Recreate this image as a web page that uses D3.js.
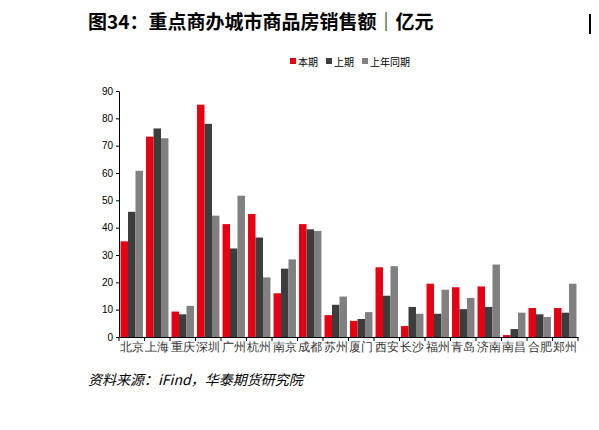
<!DOCTYPE html>
<html><head><meta charset="utf-8">
<script src="https://cdn.jsdelivr.net/npm/d3@7"></script>
<style>body{margin:0;background:#fff;font-family:"Noto Sans CJK SC",sans-serif}</style>
</head><body>
<svg id="c" width="599" height="430"></svg>
<script>
const cities = ['北京','上海','重庆','深圳','广州','杭州','南京','成都','苏州','厦门','西安','长沙','福州','青岛','济南','南昌','合肥','郑州'];
const current = [35,73.3,9.3,85,41.3,45,16,41.3,8,5.9,25.5,4,19.5,18.2,18.5,0.7,10.6,10.6];
const previous = [45.8,76.3,8.3,78,32.4,36.4,25,39.4,11.8,6.6,15.1,11,8.5,10.2,11,2.9,8.3,8.9];
const lastYear = [60.8,72.7,11.4,44.4,51.7,21.8,28.4,38.8,14.8,9.1,25.9,8.5,17.3,14.3,26.5,8.9,7.3,19.5];
const seriesNames = ['本期','上期','上年同期'];
const colors = ['#e60012','#3d3d3d','#808080'];
const yTicks = d3.range(0,91,10);

const svg = d3.select('#c');
svg.append('text').attr('x',88).attr('y',29).attr('font-size',19).attr('font-weight','bold').text('图34：重点商办城市商品房销售额｜亿元');
svg.append('rect').attr('x',589).attr('y',14).attr('width',2).attr('height',20).attr('fill','#000');

const x = d3.scaleBand().domain(cities).range([119,578]).paddingInner(0.12).paddingOuter(0.06);
const y = d3.scaleLinear().domain([0,90]).range([337,91]);
const inner = d3.scaleBand().domain([0,1,2]).range([0,x.bandwidth()]);

const lg = svg.append('g');
let lx = 290;
seriesNames.forEach((n,i)=>{
  lg.append('rect').attr('x',lx).attr('y',58).attr('width',6).attr('height',6).attr('fill',colors[i]);
  lg.append('text').attr('x',lx+8).attr('y',65.5).attr('font-size',10).text(n);
  lx += 8 + n.length*10 + 8;
});

const data = [current,previous,lastYear];
data.forEach((s,k)=>{
  svg.append('g').selectAll('rect').data(s).join('rect')
    .attr('x',(d,i)=>x(cities[i])+inner(k)).attr('width',inner.bandwidth())
    .attr('y',d=>y(d)).attr('height',d=>y(0)-y(d)).attr('fill',colors[k]);
});

const ya = svg.append('g').attr('transform','translate(119,0)')
  .call(d3.axisLeft(y).tickValues(yTicks).tickSize(3).tickSizeOuter(0));
ya.selectAll('text').attr('font-size',10).attr('font-family','Liberation Sans, Arial').attr('fill','#000');
const xa = svg.append('g').attr('transform','translate(0,337)')
  .call(d3.axisBottom(x).tickSize(0).tickSizeOuter(0));
xa.selectAll('text').attr('font-size',12).attr('dy','0.9em').attr('fill','#333');
svg.append('g').selectAll('line').data(d3.range(cities.length+1)).join('line')
  .attr('x1',i=>119+i*x.step()*(1)).attr('x2',i=>119+i*x.step())
  .attr('y1',337).attr('y2',341).attr('stroke','#000');
svg.selectAll('.domain').attr('stroke','#000');

svg.append('text').attr('x',88).attr('y',385).attr('font-size',14).attr('font-style','italic').text('资料来源：iFind，华泰期货研究院');
</script>
</body></html>
